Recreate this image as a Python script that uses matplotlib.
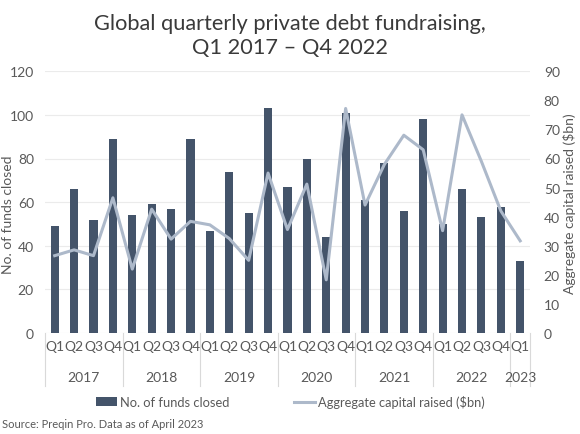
import matplotlib
matplotlib.use('Agg')
import matplotlib.pyplot as plt
import matplotlib.transforms as mtrans

plt.rcParams['font.family'] = ['Lato', 'DejaVu Sans']

quarters = ['Q1', 'Q2', 'Q3', 'Q4'] * 6 + ['Q1']
years = ['2017', '2018', '2019', '2020', '2021', '2022', '2023']
funds_closed = [49, 66, 52, 89, 54, 59, 57, 89, 47, 74, 55, 103,
                67, 80, 44, 101, 61, 78, 56, 98, 50, 66, 53, 58, 33]
capital_raised = [26.6, 28.6, 26.6, 46.5, 22.0, 42.6, 32.3, 38.4, 37.2, 32.5, 25.0, 55.0,
                  35.6, 51.2, 18.3, 77.2, 44.0, 58.0, 68.0, 63.0, 35.2, 75.0, 59.0, 42.0, 31.7]

bar_col = '#44546A'
line_col = '#ADB9CA'
txt_col = '#595959'

fig = plt.figure(figsize=(5.8, 4.35), dpi=100)
ax = fig.add_axes([0.0776, 0.232, 0.836, 0.602])
ax2 = ax.twinx()

x = list(range(len(funds_closed)))
b = ax.bar(x, funds_closed, width=0.42, color=bar_col, zorder=3)
l, = ax2.plot(x, capital_raised, color=line_col, lw=2.2, zorder=4)

ax.set_xlim(-0.5, 24.5)
ax.set_ylim(0, 120)
ax.set_yticks(range(0, 121, 20))
ax2.set_ylim(0, 90)
ax2.set_yticks(range(0, 91, 10))
ax.yaxis.grid(True, color='#EBEBEB', lw=0.8, zorder=0)
for a in (ax, ax2):
    for s in a.spines.values():
        s.set_visible(False)
    a.tick_params(length=0, labelsize=10, labelcolor=txt_col)
ax.tick_params(axis='y', pad=8)
ax2.tick_params(axis='y', pad=10)

ax.set_xticks(x)
ax.set_xticklabels(quarters)
ax.tick_params(axis='x', pad=5)

# 年份分组（季度标签下方）
tr = mtrans.blended_transform_factory(ax.transData, ax.transAxes)
bounds = [-0.5, 3.5, 7.5, 11.5, 15.5, 19.5, 23.5, 24.5]
for xb in bounds:
    ax.plot([xb, xb], [0, -0.203], transform=tr, color='#D9D9D9', lw=0.8, clip_on=False)
for i, yr in enumerate(years):
    cx = (bounds[i] + bounds[i + 1]) / 2
    ax.text(cx, -0.167, yr, transform=tr, ha='center', va='center', fontsize=10, color=txt_col)

fig.text(0.013, 0.506, 'No. of funds closed', rotation=90, ha='center', va='center',
         fontsize=10, color=txt_col)
fig.text(0.982, 0.531, 'Aggregate capital raised ($bn)', rotation=90, ha='center', va='center',
         fontsize=10, color=txt_col)

fig.text(0.5, 0.917, 'Global quarterly private debt fundraising,\nQ1 2017 \u2013 Q4 2022',
         ha='center', va='center', fontsize=15.7, color='#3a3a3a', linespacing=1.25)

fig.legend([b, l], ['No. of funds closed', 'Aggregate capital raised ($bn)'],
           loc='center', bbox_to_anchor=(0.5, 0.074), ncol=2, frameon=False,
           fontsize=9.3, labelcolor=txt_col, handlelength=1.63, handleheight=0.7,
           handletextpad=0.23, columnspacing=5.0, borderaxespad=0, borderpad=0)

fig.text(0.004, 0.023, 'Source: Preqin Pro. Data as of April 2023', fontsize=8,
         color=txt_col, ha='left', va='center')

fig.savefig('out.png', dpi=100)
